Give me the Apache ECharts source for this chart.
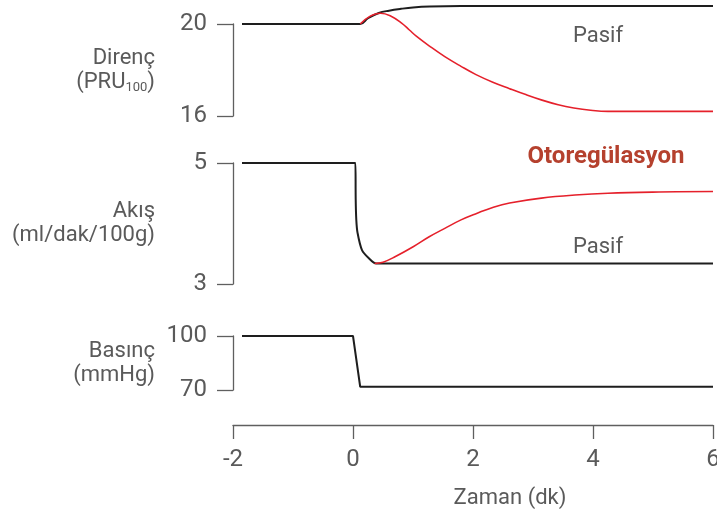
<!DOCTYPE html>
<html>
<head>
<meta charset="utf-8">
<script src="https://cdn.jsdelivr.net/npm/echarts@6/dist/echarts.min.js"></script>
<style>
html,body{margin:0;padding:0;background:#fff;}
#c{width:717px;height:518px;}
</style>
</head>
<body>
<div id="c"></div>
<script>
// ---- data (time in minutes) ----
const timeTicks = [-2, 0, 2, 4, 6];
const resistanceTicks = [16, 20];
const flowTicks = [3, 5];
const pressureTicks = [70, 100];

// Direnç (PRU100)
const resistancePassive = [[-1.85,20],[0.12,20],[0.25,20.25],[0.43,20.48],[0.6,20.58],[0.8,20.66],[1.0,20.72],[1.28,20.76],[1.8,20.78],[3,20.78],[6,20.78]];
const resistanceAuto = [[0.12,20],[0.28,20.33],[0.46,20.47],[0.62,20.36],[0.81,20.04],[0.94,19.74],[1.06,19.46],[1.28,19.03],[1.53,18.58],[1.8,18.16],[2.05,17.8],[2.33,17.47],[2.61,17.19],[2.88,16.93],[3.15,16.69],[3.42,16.49],[3.68,16.35],[3.96,16.25],[4.25,16.2],[5,16.2],[6,16.2]];

// Akış (ml/dak/100g)
const flowPassive = [[-1.85,5],[0.04,5],[0.045,4.4],[0.055,4.06],[0.075,3.85],[0.15,3.56],[0.26,3.43],[0.39,3.34],[6,3.34]];
const flowAuto = [[0.36,3.34],[0.5,3.36],[0.7,3.45],[1.01,3.62],[1.27,3.78],[1.53,3.92],[1.8,4.06],[2.07,4.17],[2.34,4.27],[2.61,4.34],[3.14,4.42],[3.7,4.47],[4.25,4.5],[5.1,4.52],[6,4.53]];

// Basınç (mmHg)
const pressure = [[-1.85,100],[0,100],[0.12,71.8],[6,71.8]];

const FONT = 'Roboto';
const GRAY = '#5a5a5a';
const AXIS = '#5f5f5f';
const BLACK = '#1e1e1e';
const RED = '#e5202b';

function yAxisDef(gridIndex, ticks, name, rich, gap) {
  return {
    type: 'value', gridIndex: gridIndex,
    min: ticks[0], max: ticks[ticks.length - 1],
    axisLine: { show: true, onZero: false, lineStyle: { color: AXIS, width: 1.3 } },
    axisTick: { show: true, length: 16, customValues: ticks, lineStyle: { color: AXIS, width: 1.3 } },
    axisLabel: { customValues: ticks, margin: 26, fontSize: 24, color: GRAY, fontFamily: FONT },
    splitLine: { show: false },
    name: name, nameLocation: 'middle', nameRotate: 0, nameGap: gap,
    nameTextStyle: { rich: rich, fontFamily: FONT, color: GRAY }
  };
}
function hiddenX(gridIndex) {
  return { type: 'value', gridIndex: gridIndex, min: -2, max: 6, show: false };
}
function line(data, xi, color, width, smooth) {
  return {
    type: 'line', xAxisIndex: xi, yAxisIndex: xi, data: data,
    showSymbol: false, symbol: 'none', clip: false,
    smooth: smooth,
    lineStyle: { color: color, width: width }
  };
}

const richBase = function (lh) {
  return {
    a: { fontSize: 22, lineHeight: lh, align: 'right', color: GRAY, fontFamily: FONT },
    s: { fontSize: 13, lineHeight: 10, align: 'right', verticalAlign: 'bottom', color: GRAY, fontFamily: FONT }
  };
};

const gridBase = { left: 233, right: 4, outerBoundsMode: 'none', containLabel: false };

const chart = echarts.init(document.getElementById('c'), null, { renderer: 'canvas' });
chart.setOption({
  animation: false,
  backgroundColor: '#ffffff',
  grid: [
    Object.assign({ top: 24, height: 92 }, gridBase),
    Object.assign({ top: 163, height: 121 }, gridBase),
    Object.assign({ top: 336, height: 54 }, gridBase)
  ],
  xAxis: [
    hiddenX(0),
    hiddenX(1),
    {
      type: 'value', gridIndex: 2, min: -2, max: 6, interval: 2, offset: 35,
      axisLine: { show: true, onZero: false, lineStyle: { color: AXIS, width: 1.3 } },
      axisTick: { show: true, length: 14, lineStyle: { color: AXIS, width: 1.3 } },
      axisLabel: { margin: 23, fontSize: 24, lineHeight: 24, color: GRAY, fontFamily: FONT,
        formatter: function (v) { return timeTicks.indexOf(v) >= 0 ? String(v) : ''; } },
      splitLine: { show: false },
      name: 'Zaman (dk)', nameLocation: 'middle', nameGap: 62,
      nameTextStyle: { fontSize: 22, lineHeight: 22, color: GRAY, fontFamily: FONT, padding: [0, 0, 0, 74] }
    }
  ],
  yAxis: [
    yAxisDef(0, resistanceTicks, '{a|Direnç}\n{a|(PRU}{s|100}{a|)}', richBase(24), 78),
    yAxisDef(1, flowTicks, '{a|Akış}\n{a|(ml/dak/100g)}', richBase(24), 78),
    yAxisDef(2, pressureTicks, '{a|Basınç}\n{a|(mmHg)}', richBase(24), 78)
  ],
  series: [
    line(resistancePassive, 0, BLACK, 2, 0.4),
    line(resistanceAuto, 0, RED, 1.6, 0.4),
    line(flowPassive, 1, BLACK, 2, 0.3),
    line(flowAuto, 1, RED, 1.6, 0.4),
    line(pressure, 2, BLACK, 2, false)
  ],
  graphic: [
    { type: 'text', x: 598, y: 36, style: { text: 'Pasif', fontSize: 22, fontFamily: FONT, fill: GRAY, align: 'center', verticalAlign: 'middle' } },
    { type: 'text', x: 598, y: 247, style: { text: 'Pasif', fontSize: 22, fontFamily: FONT, fill: GRAY, align: 'center', verticalAlign: 'middle' } },
    { type: 'text', x: 606, y: 157, style: { text: 'Otoregülasyon', fontSize: 24, fontWeight: 'bold', fontFamily: FONT, fill: '#b5412e', align: 'center', verticalAlign: 'middle' } }
  ]
});
</script>
</body>
</html>
